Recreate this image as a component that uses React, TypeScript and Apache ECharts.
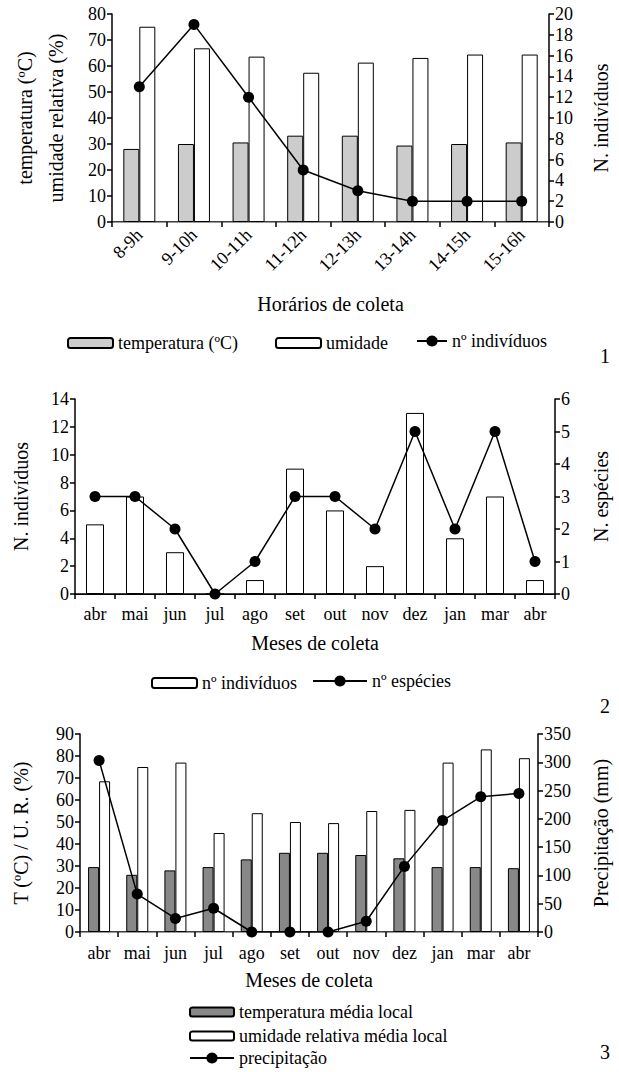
import React, { useEffect, useRef } from "react";
import * as echarts from "echarts";

// ---- Chart 1 data ----
const hours = ["8-9h", "9-10h", "10-11h", "11-12h", "12-13h", "13-14h", "14-15h", "15-16h"];
const temp1 = [28.1, 30, 30.6, 33.2, 33.2, 29.4, 30, 30.6];
const hum1 = [75.1, 66.8, 63.6, 57.4, 61.3, 63.1, 64.4, 64.4];
const ind1 = [13, 19, 12, 5, 3, 2, 2, 2];

// ---- Chart 2 data ----
const months = ["abr", "mai", "jun", "jul", "ago", "set", "out", "nov", "dez", "jan", "mar", "abr"];
const ind2 = [5, 7, 3, 0, 1, 9, 6, 2, 13, 4, 7, 1];
const spp2 = [3, 3, 2, 0, 1, 3, 3, 2, 5, 2, 5, 1];

// ---- Chart 3 data ----
const temp3 = [29.5, 26, 28, 29.5, 33, 36, 36, 35, 33.5, 29.5, 29.5, 29];
const hum3 = [68.5, 75, 77, 45, 54, 50, 49.5, 55, 55.5, 77, 83, 79];
const prec3 = [303, 67, 24, 42, 0, 0, 0, 19, 116, 197, 239, 245];

const FONT = "Liberation Serif";
const tickText = { fontFamily: FONT, fontSize: 18, color: "#000" };
const nameText = { fontFamily: FONT, fontSize: 20, color: "#000" };

function bottomX(grid: number, data: string[], name: string, gap: number, label: any) {
  return {
    gridIndex: grid,
    type: "category",
    data,
    position: "bottom",
    axisLine: { lineStyle: { color: "#000", width: 1.5 } },
    axisTick: { show: true, length: 5, lineStyle: { color: "#000", width: 1.5 } },
    axisLabel: { ...tickText, ...label },
    name,
    nameLocation: "middle",
    nameGap: gap,
    nameTextStyle: nameText,
  };
}
function topX(grid: number, data: string[], color: string) {
  return {
    gridIndex: grid,
    type: "category",
    data,
    position: "top",
    axisLine: { lineStyle: { color, width: 1.2 } },
    axisTick: { show: false },
    axisLabel: { show: false },
  };
}
function yAx(grid: number, pos: string, max: number, interval: number, name: string, gap: number, extra: any = {}) {
  return {
    gridIndex: grid,
    type: "value",
    position: pos,
    min: 0,
    max,
    interval,
    axisLine: { show: true, lineStyle: { color: "#000", width: 1.5 } },
    axisTick: { show: true, length: 5, lineStyle: { color: "#000", width: 1.5 } },
    axisLabel: { ...tickText, margin: 6 },
    splitLine: { show: false },
    name,
    nameLocation: "middle",
    nameRotate: 90,
    nameGap: gap,
    nameTextStyle: { ...nameText, ...extra },
  };
}
function legendItem(name: string, left: number, top: number, w: number, h: number) {
  return {
    data: [name],
    left,
    top,
    padding: 0,
    itemWidth: w,
    itemHeight: h,
    selectedMode: false,
    formatter: (n: string) => n.trim(),
    textStyle: { fontFamily: FONT, fontSize: 18, color: "#000" },
  };
}
const barBorder = { borderColor: "#000", borderWidth: 1 };
const lineSeries = (name: string, x: number, y: number, data: number[]) => ({
  name,
  type: "line",
  xAxisIndex: x,
  yAxisIndex: y,
  data,
  symbol: "circle",
  symbolSize: 11,
  itemStyle: { color: "#000" },
  lineStyle: { color: "#000", width: 1.5 },
  z: 5,
});

export default function App() {
  const ref = useRef<HTMLDivElement>(null);
  useEffect(() => {
    if (!ref.current) return;
    const chart = echarts.init(ref.current, undefined, { renderer: "svg" });
    const option: any = {
      animation: false,
      backgroundColor: "#fff",
      textStyle: { fontFamily: FONT },
      grid: [
        { left: 112, top: 14, width: 439, height: 208, containLabel: false },
        { left: 75, top: 399, width: 488, height: 195, containLabel: false },
        { left: 80, top: 734, width: 465, height: 198, containLabel: false },
      ],
      xAxis: [
        bottomX(0, hours, "Horários de coleta", 72, { rotate: 45, margin: 10 }),
        topX(0, hours, "#999"),
        bottomX(1, months, "Meses de coleta", 39, { margin: 11, interval: 0 }),
        topX(1, months, "#000"),
        bottomX(2, months, "Meses de coleta", 38, { margin: 12, interval: 0 }),
        topX(2, months, "#999"),
      ],
      yAxis: [
        yAx(0, "left", 80, 10, "temperatura (ºC)\numidade relativa (%)", 41, { lineHeight: 31 }),
        yAx(0, "right", 20, 2, "N. indivíduos", 42),
        yAx(1, "left", 14, 2, "N. indivíduos", 44),
        yAx(1, "right", 6, 1, "N. espécies", 36),
        yAx(2, "left", 90, 10, "T (ºC) / U. R. (%)", 49),
        yAx(2, "right", 350, 50, "Precipitação (mm)", 53),
      ],
      legend: [
        legendItem("temperatura (ºC)", 67, 334, 45, 10),
        legendItem("umidade", 275, 334, 45, 10),
        legendItem("nº indivíduos", 416, 332, 30, 14),
        legendItem("nº indivíduos ", 151, 674, 45, 10),
        legendItem("nº espécies", 312, 672, 54, 14),
        legendItem("temperatura média local", 189, 1003, 44, 9),
        legendItem("umidade relativa média local", 189, 1027, 44, 9),
        legendItem("precipitação", 189, 1049, 44, 14),
      ],
      series: [
        {
          name: "temperatura (ºC)",
          type: "bar",
          xAxisIndex: 0,
          yAxisIndex: 0,
          data: temp1,
          barWidth: 16,
          barGap: "0%",
          itemStyle: { color: "#cccccc", ...barBorder },
        },
        {
          name: "umidade",
          type: "bar",
          xAxisIndex: 0,
          yAxisIndex: 0,
          data: hum1,
          barWidth: 16,
          barGap: "0%",
          itemStyle: { color: "#ffffff", ...barBorder },
        },
        lineSeries("nº indivíduos", 0, 1, ind1),
        {
          name: "nº indivíduos ",
          type: "bar",
          xAxisIndex: 2,
          yAxisIndex: 2,
          data: ind2,
          barWidth: 18,
          itemStyle: { color: "#ffffff", ...barBorder },
        },
        lineSeries("nº espécies", 2, 3, spp2),
        {
          name: "temperatura média local",
          type: "bar",
          xAxisIndex: 4,
          yAxisIndex: 4,
          data: temp3,
          barWidth: 11,
          barGap: "0%",
          itemStyle: { color: "#888888", ...barBorder },
        },
        {
          name: "umidade relativa média local",
          type: "bar",
          xAxisIndex: 4,
          yAxisIndex: 4,
          data: hum3,
          barWidth: 11,
          barGap: "0%",
          itemStyle: { color: "#ffffff", ...barBorder },
        },
        lineSeries("precipitação", 4, 5, prec3),
      ],
      graphic: [
        { type: "text", left: 600, top: 346, style: { text: "1", font: `20px ${FONT}`, fill: "#000" } },
        { type: "text", left: 600, top: 696, style: { text: "2", font: `20px ${FONT}`, fill: "#000" } },
        { type: "text", left: 600, top: 1042, style: { text: "3", font: `20px ${FONT}`, fill: "#000" } },
      ],
    };
    chart.setOption(option);
    return () => chart.dispose();
  }, []);
  return (
    <div
      ref={ref}
      style={{ position: "absolute", left: 0, top: 0, width: 619, height: 1072, background: "#fff" }}
    />
  );
}
